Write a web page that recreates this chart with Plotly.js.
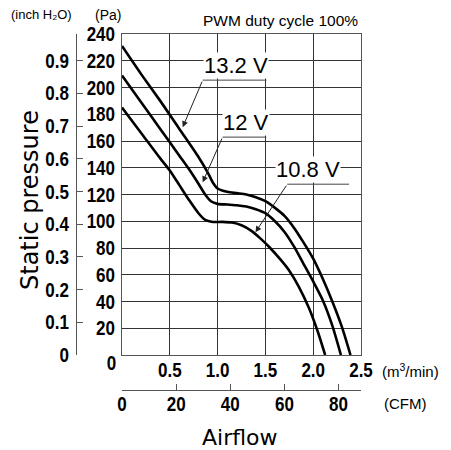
<!DOCTYPE html>
<html>
<head>
<meta charset="utf-8">
<script src="https://cdn.plot.ly/plotly-3.0.1.min.js"></script>
<style>
html,body{margin:0;padding:0;background:#fff}
#chart{width:451px;height:450px}
</style>
</head>
<body>
<div id="chart"></div>
<script>
// ---- data (airflow in m3/min, static pressure in Pa) ----
const airflow132 = [0, 0.2, 0.4, 0.6, 0.8, 0.9, 0.95, 1.0, 1.1, 1.2, 1.3, 1.4, 1.5, 1.6, 1.7, 1.8, 1.9, 2.0, 2.1, 2.2, 2.3, 2.39];
const pressure132 = [231, 210, 190, 169, 148, 136, 129, 124.5, 122, 121, 120, 118, 115, 110, 104, 95, 84, 72, 57, 40, 21, 0];

const airflow120 = [0, 0.2, 0.4, 0.6, 0.7, 0.8, 0.87, 0.93, 1.0, 1.1, 1.2, 1.3, 1.4, 1.5, 1.6, 1.7, 1.8, 1.9, 2.0, 2.1, 2.2, 2.29];
const pressure120 = [209, 189, 169, 149, 139, 128, 120, 115, 113, 112.5, 112, 111, 109, 106, 100, 92, 81, 68, 55, 41, 22, 0];

const airflow108 = [0, 0.2, 0.4, 0.5, 0.6, 0.7, 0.8, 0.87, 0.95, 1.05, 1.15, 1.25, 1.35, 1.45, 1.55, 1.65, 1.75, 1.85, 1.95, 2.05, 2.125];
const pressure108 = [185, 166, 147, 138, 127, 116, 106, 101, 99.5, 99.5, 99, 97, 93, 87, 80, 72, 63, 51, 36, 17, 0];

const seriesLabels = ['13.2 V', '12 V', '10.8 V'];

const xTicks = [0.5, 1.0, 1.5, 2.0, 2.5];
const xTickText = ['0.5', '1.0', '1.5', '2.0', '2.5'];
const paTicks = [20, 40, 60, 80, 100, 120, 140, 160, 180, 200, 220, 240];
const inchTicks = [0, 0.1, 0.2, 0.3, 0.4, 0.5, 0.6, 0.7, 0.8, 0.9];
const cfmTicks = [0, 20, 40, 60, 80];

// ---- layout helpers ----
const W = 451, H = 450;
const px = v => v / W;          // paper x from pixel
const py = v => 1 - v / H;      // paper y from pixel
const plotL = 122, plotR = 361, plotT = 34, plotB = 355;

const tickFont = {family: 'Liberation Sans, Arial, sans-serif', size: 20, color: '#000', weight: 'bold'};
const lineCol = '#555';
const curveStyle = {color: '#000', width: 2.6, shape: 'spline', smoothing: 0.7};

const traces = [
  {x: airflow132, y: pressure132, name: seriesLabels[0]},
  {x: airflow120, y: pressure120, name: seriesLabels[1]},
  {x: airflow108, y: pressure108, name: seriesLabels[2]}
].map(t => Object.assign(t, {type: 'scatter', mode: 'lines', line: curveStyle, hoverinfo: 'skip', showlegend: false}));

// dummy trace so the secondary axes exist
traces.push({x: [0], y: [0], xaxis: 'x2', yaxis: 'y2', mode: 'markers', marker: {opacity: 0}, hoverinfo: 'skip', showlegend: false});

// label placement (data coordinates of the plot)
const labelPos = [
  {tx: 1.193, ux0: 0.844, ux1: 1.51, uy: 205.5, ax: 0.635, ay: 170.3},
  {tx: 1.297, ux0: 1.052, ux1: 1.51, uy: 162.9, ax: 0.844, ay: 129.2},
  {tx: 1.948, ux0: 1.729, ux1: 2.375, uy: 127.7, ax: 1.396, ay: 91.8}
];

const annotations = [];
const shapes = [];
seriesLabels.forEach((lab, i) => {
  const p = labelPos[i];
  annotations.push({x: p.tx, y: p.uy, xref: 'x', yref: 'y', xanchor: 'center', yanchor: 'bottom', yshift: 1, text: lab, showarrow: false,
    bgcolor: '#fff', borderpad: 0, font: {family: 'Liberation Sans, Arial, sans-serif', size: 22, color: '#000'}});
  shapes.push({type: 'line', xref: 'x', yref: 'y', x0: p.ux0, x1: p.ux1, y0: p.uy, y1: p.uy, line: {color: '#444', width: 1}});
  annotations.push({x: p.ax, y: p.ay, xref: 'x', yref: 'y', axref: 'x', ayref: 'y', ax: p.ux0, ay: p.uy,
    text: '', showarrow: true, arrowhead: 2, arrowsize: 1.2, arrowwidth: 1, arrowcolor: '#222', standoff: 0, startstandoff: 0});
});

const smallFont = {family: 'Liberation Sans, Arial, sans-serif', size: 13, color: '#000'};
const paFont = {family: 'Liberation Sans, Arial, sans-serif', size: 14, color: '#000'};
const unitFont = {family: 'Liberation Sans, Arial, sans-serif', size: 15, color: '#000'};
const pwmFont = {family: 'Liberation Sans, Arial, sans-serif', size: 15.5, color: '#000'};
const pa = (x, y, text, font, xa, extra) => Object.assign({xref: 'paper', yref: 'paper', x: px(x), y: py(y), text: text,
  showarrow: false, font: font, xanchor: xa || 'center', yanchor: 'middle'}, extra || {});
annotations.push(
  pa(9, 15, '(inch H₂O)', smallFont, 'left'),
  pa(93, 15, '(Pa)', paFont, 'left'),
  pa(280, 21, 'PWM duty cycle 100%', pwmFont),
  pa(380, 370, '(m<sup>3</sup>/min)', unitFont, 'left'),
  pa(382, 403, '(CFM)', unitFont, 'left'),
  pa(30, 200, 'Static pressure', {family: 'DejaVu Sans, sans-serif', size: 24, color: '#000'}, 'center', {textangle: -90}),
  pa(240, 437, 'Airflow', {family: 'DejaVu Sans, sans-serif', size: 22, color: '#000'}),
  pa(119, 363, '0', tickFont, 'right')
);

const layout = {
  width: W, height: H,
  margin: {l: 0, r: 0, t: 0, b: 0},
  paper_bgcolor: '#fff', plot_bgcolor: '#fff',
  showlegend: false,
  xaxis: {domain: [px(plotL), px(plotR)], range: [0, 2.5], tickvals: xTicks, ticktext: xTickText,
    showgrid: true, gridcolor: '#333', gridwidth: 1, showline: true, mirror: true, linecolor: lineCol, linewidth: 1,
    ticks: '', tickfont: tickFont, ticklabelstandoff: -3, zeroline: false, fixedrange: true, anchor: 'y'},
  yaxis: {domain: [py(plotB), py(plotT)], range: [0, 240], tickvals: paTicks, ticktext: paTicks.map(String),
    showgrid: true, gridcolor: '#333', gridwidth: 1, showline: true, mirror: true, linecolor: lineCol, linewidth: 1,
    ticks: '', tickfont: tickFont, ticklabelstandoff: 2, zeroline: false, fixedrange: true, anchor: 'x'},
  xaxis2: {overlaying: 'x', anchor: 'free', position: py(390), side: 'bottom', range: [0, 88.3],
    tickvals: cfmTicks, ticktext: cfmTicks.map(String), ticks: 'inside', ticklen: 6, tickcolor: lineCol,
    showgrid: false, showline: true, linecolor: lineCol, linewidth: 1, zeroline: false, tickfont: tickFont,
    ticklabelstandoff: -4, fixedrange: true},
  yaxis2: {overlaying: 'y', anchor: 'free', position: px(76), side: 'left', range: [0, 0.9818],
    tickvals: inchTicks, ticktext: inchTicks.map(v => v === 0 ? '0' : v.toFixed(1)), ticks: 'inside', ticklen: 6, tickcolor: lineCol,
    showgrid: false, showline: true, linecolor: lineCol, linewidth: 1, zeroline: false, tickfont: tickFont,
    ticklabelstandoff: 3, fixedrange: true},
  annotations: annotations,
  shapes: shapes
};

// narrow the bold tick digits horizontally (condensed look of the original)
function condense(gd, sx) {
  const nodes = Array.from(gd.querySelectorAll('.xtick text, .ytick text, .x2tick text, .y2tick text'));
  gd.querySelectorAll('.annotation').forEach(a => {
    if (a.getAttribute('data-index') === String(annotations.length - 1)) {
      a.querySelectorAll('text').forEach(t => nodes.push(t));
    }
  });
  nodes.forEach(t => {
    const x = parseFloat(t.getAttribute('x')) || 0;
    const tr = t.getAttribute('transform') || '';
    t.setAttribute('transform', tr + ' translate(' + x + ',0) scale(' + sx + ',1) translate(' + (-x) + ',0)');
  });
}

Plotly.newPlot('chart', traces, layout, {staticPlot: true, displayModeBar: false}).then(gd => condense(gd, 0.85));
</script>
</body>
</html>
